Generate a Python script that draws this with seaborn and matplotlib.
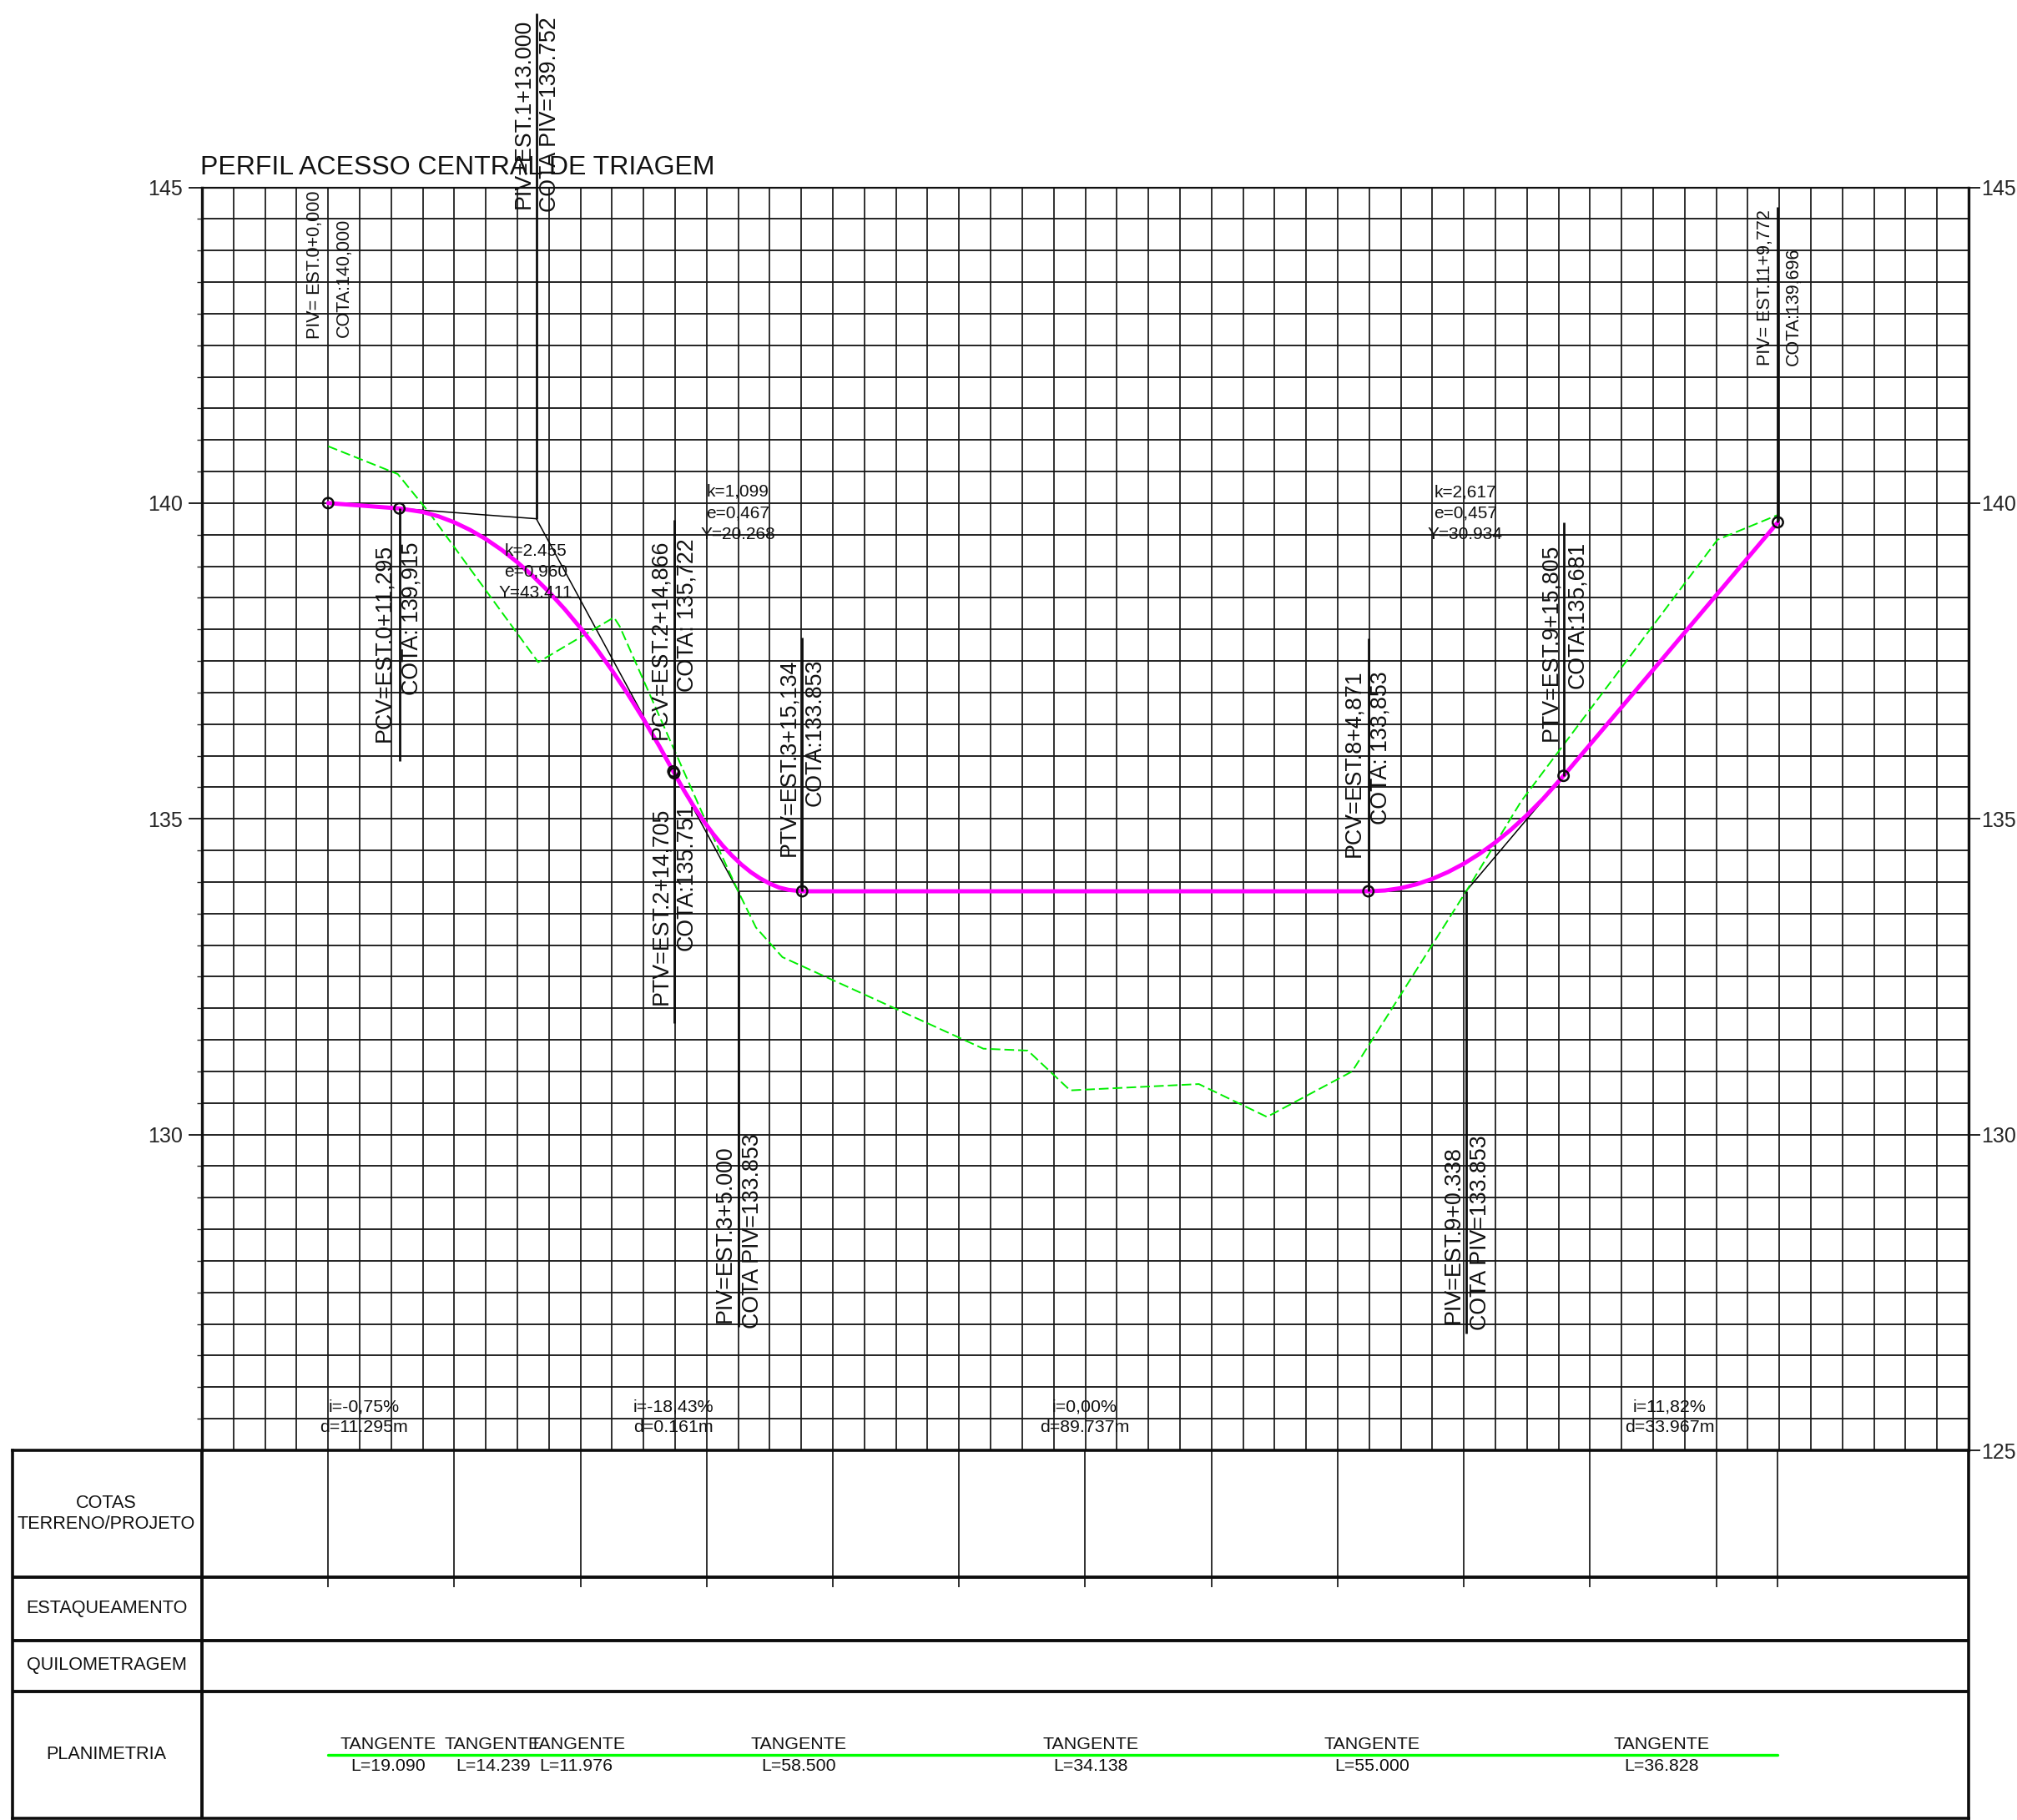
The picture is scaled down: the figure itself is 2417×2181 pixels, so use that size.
# -*- coding: utf-8 -*-
"""
Perfil longitudinal - acesso central de triagem
"""

import numpy as np
import pandas as pd
import matplotlib
matplotlib.use('Agg')
import matplotlib.pyplot as plt
import seaborn as sns

W, H = 2417, 2181

##############################################################################
# data (station in metres, elevation in metres)
##############################################################################
terreno_x = [0, 11.03, 16.0, 33.3, 45.3, 46.2, 55.0, 59.7, 65.0, 67.8, 72.0,
             103.85, 110.9, 117.6, 138.0, 148.8, 162.3, 180.35, 189.1,
             220.2, 229.7]
terreno_y = [140.90, 140.46, 139.85, 137.48, 138.19, 138.05, 136.06, 135.00,
             133.85, 133.28, 132.81, 131.36, 131.33, 130.70, 130.80, 130.28,
             131.00, 133.85, 135.28, 139.42, 139.81]

projeto_x = [0, 11.295, 15, 17.5, 20, 22.5, 25, 27.5, 30, 32.5, 35, 37.5, 40,
             42.5, 45, 47.5, 50, 52.5, 54.705, 54.866, 56.4, 58, 59.5, 61, 62.5,
             64, 65.5, 67, 68.5, 70, 71.5, 73, 75.134, 164.871, 167.5, 170,
             172.5, 175, 177.5, 180, 182.5, 185, 187.5, 190, 192.5, 195.805,
             229.772]
projeto_y = [140.000, 139.915, 139.859, 139.790, 139.695, 139.575, 139.430,
             139.259, 139.062, 138.840, 138.593, 138.320, 138.022, 137.699,
             137.349, 136.975, 136.575, 136.149, 135.751, 135.722, 135.450,
             135.189, 134.966, 134.763, 134.580, 134.418, 134.276, 134.155,
             134.055, 133.974, 133.911, 133.875, 133.853, 133.853, 133.866,
             133.903, 133.964, 134.049, 134.158, 134.290, 134.447, 134.627,
             134.831, 135.059, 135.311, 135.681, 139.696]

tangente_x = [11.295, 33.0, 65.0, 180.338, 195.805]
tangente_y = [139.915, 139.752, 133.853, 133.853, 135.681]

notaveis_x = [0, 11.295, 54.705, 54.866, 75.134, 164.871, 195.805, 229.772]
notaveis_y = [140.000, 139.915, 135.751, 135.722, 133.853, 133.853, 135.681, 139.696]

# vertical leader lines: station, from, to
leader_x = [11.295, 33.0, 54.8, 65.0, 75.134, 164.871, 180.338, 195.805, 229.772]
leader_y0 = [139.915, 139.752, 131.76, 133.853, 133.853, 133.853, 133.853, 135.681, 139.696]
leader_y1 = [135.91, 147.75, 139.74, 126.95, 137.87, 137.86, 126.85, 139.70, 144.69]

estacas = [0, 20, 40, 60, 80, 100, 120, 140, 160, 180, 200, 220, 229.772]
planimetria_x = [0, 229.772]

elev_ticks = [125, 130, 135, 140, 145]

row_labels = ['COTAS', 'TERRENO/PROJETO', 'ESTAQUEAMENTO', 'QUILOMETRAGEM', 'PLANIMETRIA']
tangente_nomes = ['TANGENTE'] * 7
tangente_comp = ['L=19.090', 'L=14.239', 'L=11.976', 'L=58.500', 'L=34.138', 'L=55.000', 'L=36.828']
rampa_i = ['i=-0,75%', 'i=-18,43%', 'i=0,00%', 'i=11,82%']
rampa_d = ['d=11.295m', 'd=0.161m', 'd=89.737m', 'd=33.967m']

##############################################################################
# setup
##############################################################################
sns.set_theme(style='white')
plt.rcParams['font.family'] = ['Liberation Sans', 'DejaVu Sans']
plt.rcParams['text.color'] = 'black'

fig = plt.figure(figsize=(W / 100, H / 100), dpi=100)


def box(left, top, right, bottom):
    return [left / W, 1 - bottom / H, (right - left) / W, (bottom - top) / H]


def label(txt, x, y, size=15.4, rot=0, ha='center', va='center'):
    fig.text(x / W, 1 - y / H, txt, fontsize=size, rotation=rot, ha=ha, va=va,
             color='#111111', zorder=20)


def vlabel(txt, x, y, size=19.25):
    fig.text(x / W, 1 - y / H, txt, fontsize=size, rotation=90, ha='center',
             va='bottom', color='#111111', zorder=20)


##############################################################################
# profile
##############################################################################
ax = fig.add_axes(box(242, 224.5, 2359, 1738))
ax.set_xlim(-20, 260)
ax.set_ylim(125, 145)
ax.set_axisbelow(True)

ax.set_xticks(np.arange(-20, 261, 5))
ax.set_xticklabels([])
ax.set_yticks(elev_ticks)
ax.set_yticklabels(['', '130', '135', '140', '145'], fontsize=18)
ax.set_yticks(np.arange(125, 145.01, 0.5), minor=True)
ax.grid(which='major', axis='x', color='#0d0d0d', lw=1.2)
ax.grid(which='both', axis='y', color='#1a1a1a', lw=1.35)
ax.tick_params(axis='y', which='major', left=True, length=11.5, width=1.3, pad=5, color='#111111')
ax.tick_params(axis='y', which='minor', left=False)
ax.tick_params(axis='x', length=0)
for side in ['left', 'right']:
    ax.spines[side].set_linewidth(2.4)
    ax.spines[side].set_color('#111111')
ax.spines['top'].set_linewidth(1.6)
ax.spines['top'].set_color('#111111')
ax.spines['bottom'].set_visible(False)

right = ax.twinx()
right.set_ylim(125, 145)
right.set_yticks(elev_ticks)
right.set_yticklabels([str(t) for t in elev_ticks], fontsize=18)
right.tick_params(axis='y', right=True, length=10, width=1.3, pad=1, color='#111111')
right.grid(False)
for s in right.spines.values():
    s.set_visible(False)

terreno = pd.DataFrame({'est': terreno_x, 'cota': terreno_y})
projeto = pd.DataFrame({'est': projeto_x, 'cota': projeto_y})
tangente = pd.DataFrame({'est': tangente_x, 'cota': tangente_y})
notaveis = pd.DataFrame({'est': notaveis_x, 'cota': notaveis_y})

sns.lineplot(data=tangente, x='est', y='cota', ax=ax, color='#000000', lw=1.1,
             estimator=None, sort=False, zorder=3)
sns.lineplot(data=terreno, x='est', y='cota', ax=ax, color='#00ee00', lw=1.4,
             estimator=None, sort=False, dashes=(6, 2.5), zorder=4)
sns.lineplot(data=projeto, x='est', y='cota', ax=ax, color='#ff00ff', lw=3.6,
             estimator=None, sort=False, zorder=5)
ax.vlines(leader_x, leader_y0, leader_y1, color='#0d0d0d', lw=2.0, zorder=6, clip_on=False)
sns.scatterplot(data=notaveis, x='est', y='cota', ax=ax, s=80, facecolor='none',
                edgecolor='#0d0d0d', linewidth=1.8, zorder=7)
ax.set(xlabel='', ylabel='')

##############################################################################
# table under the profile
##############################################################################
tab = fig.add_axes(box(14.7, 1738, 2359, 2179))
tab.set_xlim(-50.05, 260)
tab.set_ylim(2179, 1738)
tab.patch.set_alpha(0)
tab.set_xticks([])
tab.set_yticks([])
for s in tab.spines.values():
    s.set_linewidth(2.6)
    s.set_color('#0d0d0d')
tab.hlines([1890, 1966, 2027], -50.05, 260, color='#0d0d0d', lw=2.8)
tab.vlines([-20], 1738, 2179, color='#0d0d0d', lw=2.8)
tab.vlines(estacas, 1738, 1902, color='#0d0d0d', lw=1.2)
sns.lineplot(x=planimetria_x, y=[2103.3, 2103.3], ax=tab, color='#00ff00', lw=2.4,
             estimator=None, sort=False)
tab.set(xlabel='', ylabel='')

##############################################################################
# texts
##############################################################################
label('PERFIL ACESSO CENTRAL DE TRIAGEM', 240, 209, size=23, ha='left', va='baseline')

label(row_labels[0], 127.6, 1801.6, size=15.6)
label(row_labels[1], 127.6, 1827, size=15.6)
label(row_labels[2], 127.6, 1928, size=15.6)
label(row_labels[3], 127.6, 1996, size=15.6)
label(row_labels[4], 127.6, 2103, size=15.6)

for nome, comp, xn, xc in zip(tangente_nomes, tangente_comp,
                              [465, 590, 692, 957, 1307, 1644, 1991],
                              [465, 591, 690, 957, 1307, 1644, 1991]):
    label(nome, xn, 2091)
    label(comp, xc, 2116)

for i_txt, d_txt, xc in zip(rampa_i, rampa_d, [436, 807, 1300, 2001]):
    label(i_txt, xc, 1686)
    label(d_txt, xc, 1711)

for k, xc, y0 in [(('k=2.455', 'e=0,960', 'Y=43.411'), 642, 660),
                  (('k=1,099', 'e=0,467', 'Y=20.268'), 884, 589.4),
                  (('k=2,617', 'e=0,457', 'Y=30.934'), 1756, 590)]:
    for n, t in enumerate(k):
        label(t, xc, y0 + n * 25.4, size=15)

vlabel('PIV= EST.0+0,000', 378, 405.6, size=15.5)
vlabel('COTA:140,000', 412.6, 404, size=15.5)
vlabel('PIV=EST.1+13.000', 628, 250)
vlabel('COTA PIV=139.752', 659, 253.6)
vlabel('PCV=EST.0+11,295', 460.7, 888.7)
vlabel('COTA: 139,915', 493.8, 833)
vlabel('PCV=EST.2+14,866', 791, 886)
vlabel('COTA: 135,722', 823, 828.6)
vlabel('PTV=EST.3+15,134', 945, 1025.7)
vlabel('COTA:133.853', 977, 966)
vlabel('PTV=EST.2+14,705', 792, 1204)
vlabel('COTA:135.751', 823, 1139)
vlabel('PIV=EST.3+5.000', 869, 1585)
vlabel('COTA PIV=133.853', 902, 1592)
vlabel('PIV=EST.9+0.338', 1742, 1586)
vlabel('COTA PIV=133.853', 1774, 1594)
vlabel('PCV=EST.8+4,871', 1622, 1026.6)
vlabel('COTA: 133,853', 1654.7, 988)
vlabel('PTV=EST.9+15,805', 1858, 887.7)
vlabel('COTA:135,681', 1890, 824.6)
vlabel('PIV= EST.11+9,772', 2115, 438, size=15.5)
vlabel('COTA:139,696', 2149, 438, size=15.5)

fig.savefig('out.png', dpi=100, facecolor='white')
